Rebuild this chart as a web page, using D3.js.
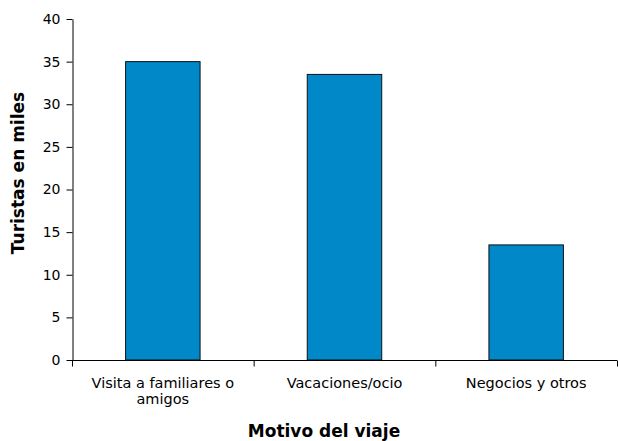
<!DOCTYPE html>
<html><head><meta charset="utf-8">
<script src="https://cdn.jsdelivr.net/npm/d3@7"></script>
<style>body{margin:0;background:#fff}svg{display:block}text{font-family:"DejaVu Sans",Verdana,sans-serif}</style>
</head><body><svg id="c" width="618" height="441"></svg>
<script>
const categories = ["Visita a familiares o amigos", "Vacaciones/ocio", "Negocios y otros"];
const labelLines = [["Visita a familiares o", "amigos"], ["Vacaciones/ocio"], ["Negocios y otros"]];
const values = [35, 33.5, 13.5];
const yTicks = [0, 5, 10, 15, 20, 25, 30, 35, 40];

const svg = d3.select("#c");
const x = d3.scaleBand().domain(categories).range([72, 617]).paddingInner(0.59).paddingOuter(0.295);
const xb = d3.scaleBand().domain(categories).range([72, 617]);
const y = d3.scaleLinear().domain([0, 40]).range([360, 19]);

svg.append("g").selectAll("rect").data(values).join("rect")
  .attr("x", (d, i) => x(categories[i]))
  .attr("y", d => y(d))
  .attr("width", x.bandwidth())
  .attr("height", d => y(0) - y(d))
  .attr("fill", "#0088c8").attr("stroke", "#111").attr("stroke-width", 1);

// y axis
const ya = svg.append("g").attr("transform", "translate(72.5,0)")
  .call(d3.axisLeft(y).tickValues(yTicks).tickSize(6).tickPadding(6).tickSizeOuter(0));
ya.selectAll("text").attr("font-size", 14).attr("fill", "#000").style("font-family", '"DejaVu Sans",sans-serif');
ya.selectAll("line,path").attr("stroke", "#000");

// x axis
const xa = svg.append("g").attr("transform", "translate(0,360.5)");
xa.append("line").attr("x1", 72).attr("x2", 617).attr("stroke", "#000");
const bounds = categories.map(c => xb(c)).concat([617]);
xa.selectAll("line.t").data(bounds).join("line").attr("class", "t")
  .attr("x1", d => d + 0.5).attr("x2", d => d + 0.5).attr("y1", 0).attr("y2", 6).attr("stroke", "#000");
categories.forEach((c, i) => {
  const t = xa.append("text").attr("text-anchor", "middle").attr("font-size", 14.5).attr("fill", "#000");
  labelLines[i].forEach((l, j) => {
    t.append("tspan").attr("x", xb(c) + xb.bandwidth() / 2).attr("y", 27 + j * 16).text(l);
  });
});

svg.append("text").attr("transform", "translate(24,173) rotate(-90)").attr("text-anchor", "middle")
  .attr("font-size", 17).attr("font-weight", "bold").text("Turistas en miles");
svg.append("text").attr("x", 324).attr("y", 437).attr("text-anchor", "middle")
  .attr("font-size", 17).attr("font-weight", "bold").text("Motivo del viaje");
</script></body></html>
